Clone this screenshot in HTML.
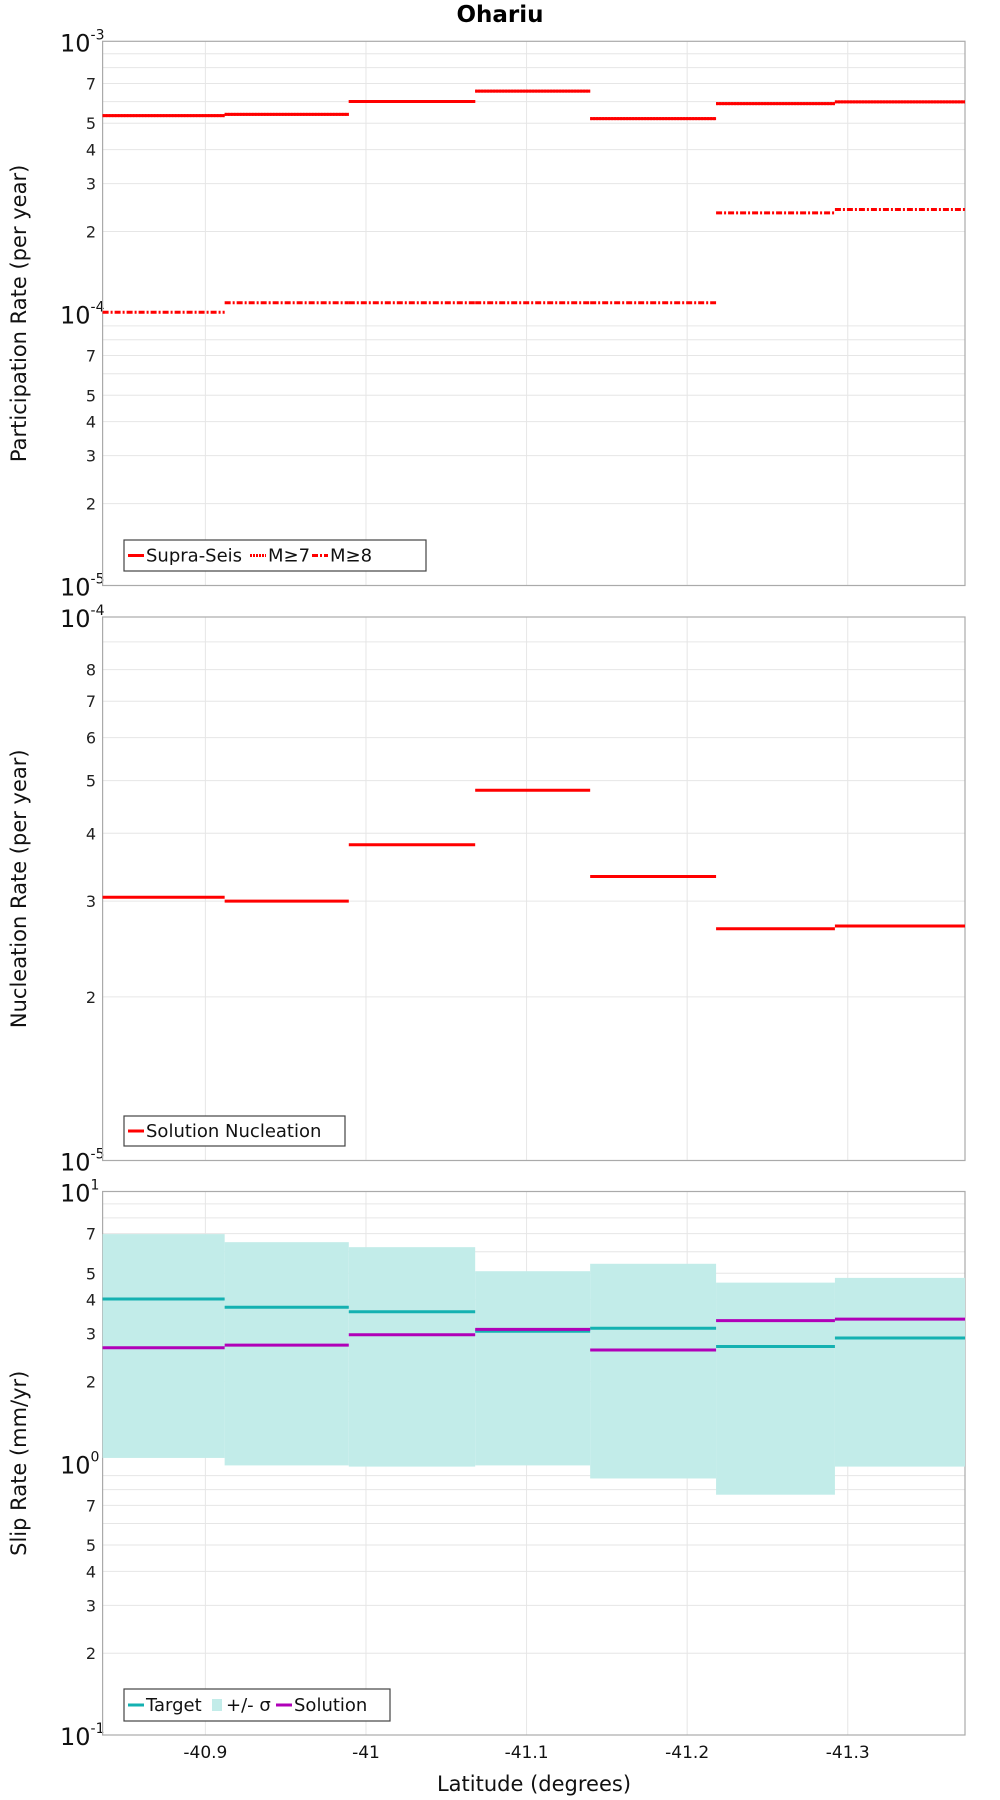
<!DOCTYPE html>
<html><head><meta charset="utf-8"><style>
body{margin:0;background:#fff;}
svg{display:block;font-family:"DejaVu Sans","Liberation Sans",sans-serif;}
</style></head><body>
<svg id="chart" width="1000" height="1800" viewBox="0 0 1000 1800" xmlns="http://www.w3.org/2000/svg">
<text x="500" y="22" text-anchor="middle" font-size="23" font-weight="bold">Ohariu</text>
<g id="g"></g>
</svg>
<script>
// Segment boundaries (latitude)
const segEdges = [-40.836, -40.912, -40.9893, -41.068, -41.1396, -41.218, -41.292, -41.373];
const xTicks = [-40.9, -41, -41.1, -41.2, -41.3];
const xTickLabels = ["-40.9", "-41", "-41.1", "-41.2", "-41.3"];
// Panel 1
const supraSeis = [5.33e-4, 5.39e-4, 6.01e-4, 6.56e-4, 5.2e-4, 5.9e-4, 5.99e-4];
const m7 = [5.33e-4, 5.39e-4, 6.01e-4, 6.56e-4, 5.2e-4, 5.9e-4, 5.99e-4];
const m8 = [1.01e-4, 1.094e-4, 1.094e-4, 1.094e-4, 1.094e-4, 2.34e-4, 2.41e-4];
// Panel 2
const nucleation = [3.05e-5, 3.0e-5, 3.81e-5, 4.8e-5, 3.33e-5, 2.67e-5, 2.7e-5];
// Panel 3
const targetSlip = [4.02, 3.75, 3.61, 3.06, 3.14, 2.69, 2.89];
const solutionSlip = [2.66, 2.72, 2.97, 3.11, 2.61, 3.35, 3.39];
const sigmaUpper = [6.97, 6.51, 6.24, 5.09, 5.42, 4.62, 4.81];
const sigmaLower = [1.046, 0.982, 0.972, 0.982, 0.879, 0.766, 0.972];

const NS = "http://www.w3.org/2000/svg";
const g = document.getElementById('g');
const L = 102.6, R = 965;
const latL = -40.836, latR = -41.373;
function xs(lat){ return L + (lat - latL) / (latR - latL) * (R - L); }
function mk(tag, attrs, parent){
  const e = document.createElementNS(NS, tag);
  for (const k in attrs) e.setAttribute(k, attrs[k]);
  (parent || g).appendChild(e);
  return e;
}
function makePanel(name, top, bot, dmin, dmax, minorLabels, ytitle){
  const p = mk('g', {});
  
  
  const ys = v => bot - (Math.log10(v) - dmin) / (dmax - dmin) * (bot - top);
  for (let d = dmin; d < dmax; d++) {
    for (let m = 2; m <= 9; m++) {
      const v = m * Math.pow(10, d);
      const y = ys(v);
      const gl = mk('line', {x1:L, x2:R, y1:y, y2:y, stroke:'#e6e6e6', 'stroke-width':1}, p);
      
      
      if (minorLabels.includes(m)) {
        const t = mk('text', {x:96, y:y+6, 'text-anchor':'end', 'font-size':16, fill:'#222'}, p);
        
        
        t.textContent = m;
      }
    }
  }
  for (let d = dmin; d <= dmax; d++) {
    const y = ys(Math.pow(10, d));
    const t = mk('text', {x:60, y:y+10, 'font-size':24, fill:'#111'}, p);
    
    
    t.textContent = '10';
    const s = mk('tspan', {dy:-12, 'font-size':14}, t);
    s.textContent = String(d);
  }
  xTicks.forEach(v => {
    const gl = mk('line', {x1:xs(v), x2:xs(v), y1:top, y2:bot, stroke:'#e6e6e6', 'stroke-width':1}, p);
    
    
  });
  const fr = mk('rect', {x:L, y:top, width:R-L, height:bot-top, fill:'none', stroke:'#aaa', 'stroke-width':1.2}, p);
  
  
  const yt = mk('text', {x:0, y:0, 'text-anchor':'middle', 'font-size':21, fill:'#111',
    transform:`translate(26 ${(top+bot)/2}) rotate(-90)`}, p);
  
  
  yt.textContent = ytitle;
  return {p, ys};
}
function steps(panel, vals, color, dash, name, w){
  vals.forEach((v, i) => {
    const a = {x1:xs(segEdges[i]), x2:xs(segEdges[i+1]), y1:panel.ys(v), y2:panel.ys(v), stroke:color, 'stroke-width':w||3};
    if (dash) a['stroke-dasharray'] = dash;
    const l = mk('line', a, panel.p);
    
    
  });
}
function legend(panel, x, y, w, h, items){
  const lg = mk('g', {}, panel.p);
  
  
  mk('rect', {x:x, y:y, width:w, height:h, fill:'#fff', stroke:'#444', 'stroke-width':1.2}, lg);
  let cx = x + 4;
  items.forEach(it => {
    const e = mk('g', {}, lg);
    
    
    if (it.box) mk('rect', {x:cx, y:y+h/2-6, width:10, height:12, fill:it.color}, e);
    else {
      const a = {x1:cx, x2:cx+16, y1:y+h/2, y2:y+h/2, stroke:it.color, 'stroke-width':3};
      if (it.dash) a['stroke-dasharray'] = it.dash;
      mk('line', a, e);
    }
    const tx = cx + (it.box ? 14 : 18);
    const t = mk('text', {x:tx, y:y+h/2+6, 'font-size':18, fill:'#111'}, e);
    t.textContent = it.label;
    cx = tx + it.tw;
  });
}
const P1 = makePanel('participation-panel', 41.3, 585.5, -5, -3, [2,3,4,5,7], 'Participation Rate (per year)');
steps(P1, supraSeis, '#ff0000', null, 'supra-seis-step');
steps(P1, m7, '#ff0000', '2 1', 'm7-step');
steps(P1, m8, '#ff0000', '6 2 2 2', 'm8-step');
legend(P1, 124, 540, 302, 31, [
  {label:'Supra-Seis', color:'#ff0000', tw:104},
  {label:'M≥7', color:'#ff0000', dash:'2 1', tw:44},
  {label:'M≥8', color:'#ff0000', dash:'6 2 2 2', tw:44}]);
const P2 = makePanel('nucleation-panel', 617, 1160.5, -5, -4, [2,3,4,5,6,7,8], 'Nucleation Rate (per year)');
steps(P2, nucleation, '#ff0000', null, 'nucleation-step');
legend(P2, 124, 1116, 221, 30, [{label:'Solution Nucleation', color:'#ff0000', tw:190}]);
const P3 = makePanel('slip-rate-panel', 1191.5, 1735, -1, 1, [2,3,4,5,7], 'Slip Rate (mm/yr)');
sigmaUpper.forEach((u, i) => {
  const x1 = xs(segEdges[i]), x2 = xs(segEdges[i+1]);
  const r = mk('rect', {x:x1, y:P3.ys(u), width:x2-x1, height:P3.ys(sigmaLower[i])-P3.ys(u), fill:'#c2ece9'}, P3.p);
  
  
});
steps(P3, targetSlip, '#14b1b1', null, 'target-step');
steps(P3, solutionSlip, '#b000b8', null, 'solution-step');
legend(P3, 124, 1689, 266, 32, [
  {label:'Target', color:'#14b1b1', tw:66},
  {label:'+/- σ', color:'#c2ece9', box:true, tw:50},
  {label:'Solution', color:'#b000b8', tw:80}]);
xTicks.forEach((v, i) => {
  const t = mk('text', {x:xs(v), y:1758, 'text-anchor':'middle', 'font-size':17, fill:'#111'});
  
  
  t.textContent = xTickLabels[i];
});
const xt = mk('text', {x:534, y:1791, 'text-anchor':'middle', 'font-size':21, fill:'#111'});


xt.textContent = 'Latitude (degrees)';
</script>
</body></html>
